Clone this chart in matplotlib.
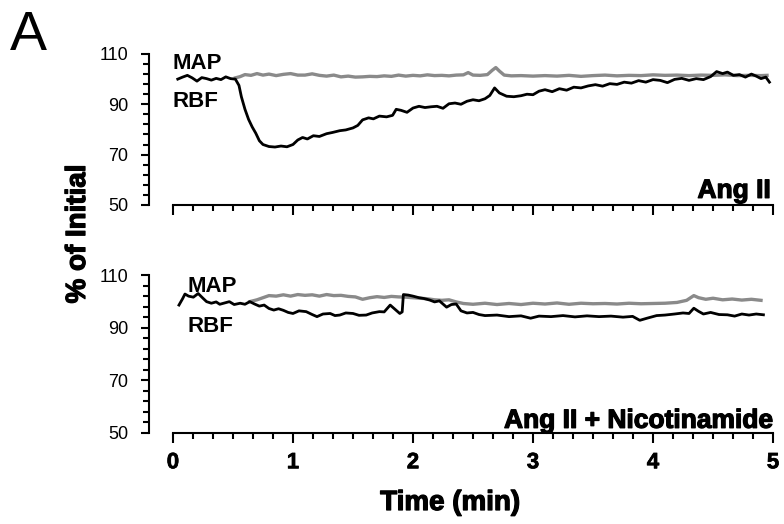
import matplotlib
matplotlib.use("Agg")
import matplotlib.pyplot as plt
import matplotlib.patheffects as pe
import numpy as np

plt.rcParams['font.family'] = ['Liberation Sans', 'DejaVu Sans']

# ---- data (% of initial, time in min) ----
# Ang II panel
rbf_top_t = [0.04, 0.08, 0.12, 0.16, 0.2, 0.24, 0.28, 0.32, 0.36, 0.4, 0.44, 0.48, 0.52, 0.55, 0.57,
             0.6, 0.63, 0.66, 0.69, 0.72, 0.75, 0.8, 0.85, 0.9, 0.95, 1.0, 1.04, 1.08, 1.12, 1.17,
             1.22, 1.28, 1.33, 1.39, 1.44, 1.5, 1.54, 1.58, 1.63, 1.67, 1.72, 1.78, 1.83, 1.86, 1.9,
             1.95, 2.0, 2.05, 2.1, 2.15, 2.2, 2.25, 2.3, 2.35, 2.4, 2.45, 2.5, 2.55, 2.6, 2.64, 2.68,
             2.72, 2.78, 2.84, 2.9, 2.95, 3.0, 3.05, 3.1, 3.16, 3.22, 3.28, 3.34, 3.4, 3.46, 3.52,
             3.58, 3.64, 3.7, 3.76, 3.82, 3.88, 3.94, 4.0, 4.06, 4.12, 4.18, 4.24, 4.3, 4.36, 4.42,
             4.48, 4.53, 4.58, 4.62, 4.67, 4.72, 4.77, 4.82, 4.86, 4.9, 4.94, 4.97]
rbf_top_v = [100.0, 100.8, 101.5, 100.5, 99.2, 100.6, 100.2, 99.6, 100.3, 99.8, 100.9, 100.2, 100.0, 97.5, 93.0,
             88.0, 84.0, 81.0, 78.5, 75.5, 74.0, 73.2, 73.0, 73.4, 73.1, 74.0, 75.8, 76.8, 76.2, 77.5,
             77.2, 78.3, 78.8, 79.5, 79.8, 80.6, 81.6, 83.8, 84.6, 84.2, 85.3, 85.0, 85.6, 88.0, 87.6,
             86.8, 88.5, 89.2, 88.7, 89.0, 89.2, 88.4, 90.2, 90.5, 90.0, 91.2, 91.8, 91.4, 92.2, 93.5, 96.5,
             94.5, 93.2, 93.0, 93.4, 94.0, 93.8, 95.2, 95.8, 95.0, 96.2, 95.6, 96.8, 96.5, 97.3, 97.8,
             97.2, 98.2, 97.9, 98.8, 98.4, 99.4, 98.8, 99.8, 99.5, 98.6, 99.9, 100.3, 99.5, 100.2, 99.8,
             101.0, 103.0, 102.2, 102.8, 101.5, 101.8, 100.8, 102.0, 101.2, 100.2, 100.8, 98.8]
map_top_t = [0.52, 0.56, 0.6, 0.65, 0.7, 0.75, 0.8, 0.86, 0.92, 0.98, 1.04, 1.1, 1.16, 1.22, 1.28,
             1.34, 1.4, 1.46, 1.52, 1.58, 1.64, 1.7, 1.76, 1.82, 1.88, 1.94, 2.0, 2.06, 2.12, 2.18,
             2.24, 2.3, 2.36, 2.42, 2.46, 2.5, 2.56, 2.62, 2.66, 2.69, 2.72, 2.76, 2.82, 2.9, 3.0,
             3.1, 3.2, 3.3, 3.4, 3.5, 3.6, 3.7, 3.8, 3.9, 4.0, 4.1, 4.2, 4.3, 4.4, 4.5, 4.6, 4.7,
             4.8, 4.9, 4.95]
map_top_v = [100.5, 101.0, 101.8, 101.5, 102.2, 101.6, 102.0, 101.4, 101.9, 102.2, 101.6, 101.6, 102.1, 101.5, 101.2,
             101.6, 100.9, 101.2, 100.8, 100.9, 101.1, 101.0, 101.3, 101.1, 101.6, 101.2, 101.5, 101.3, 101.7, 101.4,
             101.5, 101.3, 101.6, 101.7, 102.6, 101.6, 101.5, 101.8, 103.5, 104.6, 103.2, 101.6, 101.3, 101.4, 101.2,
             101.4, 101.2, 101.5, 101.1, 101.4, 101.6, 101.3, 101.5, 101.4, 101.7, 101.5, 101.6, 101.4, 101.6, 101.5, 101.7, 101.4,
             101.5, 101.4, 101.5]

# Ang II + Nicotinamide panel
rbf_bot_t = [0.05, 0.08, 0.1, 0.13, 0.17, 0.21, 0.25, 0.28, 0.32, 0.36, 0.39, 0.43, 0.47, 0.51, 0.56,
             0.6, 0.64, 0.68, 0.72, 0.76, 0.8, 0.84, 0.88, 0.92, 0.96, 1.0, 1.05, 1.11, 1.16, 1.2,
             1.25, 1.31, 1.35, 1.39, 1.44, 1.5, 1.55, 1.61, 1.66, 1.72, 1.76, 1.81, 1.85, 1.89, 1.91,
             1.92, 1.96, 2.0, 2.05, 2.09, 2.14, 2.18, 2.22, 2.28, 2.32, 2.36, 2.4, 2.45, 2.5, 2.55,
             2.6, 2.7, 2.8, 2.9, 2.98, 3.05, 3.15, 3.25, 3.35, 3.45, 3.55, 3.65, 3.75, 3.83, 3.89,
             3.95, 4.03, 4.1, 4.18, 4.25, 4.3, 4.34, 4.38, 4.42, 4.48, 4.55, 4.62, 4.68, 4.74, 4.8,
             4.86, 4.92]
rbf_bot_v = [98.6, 101.0, 102.8, 102.0, 101.6, 103.0, 101.2, 99.9, 99.3, 99.8, 98.9, 99.4, 99.9, 98.8, 99.3,
             98.9, 99.9, 99.0, 98.2, 98.6, 97.3, 96.7, 97.2, 96.6, 95.8, 95.4, 96.4, 96.1, 95.0, 94.2,
             95.2, 95.4, 94.6, 94.8, 95.6, 95.4, 94.7, 94.8, 95.6, 96.1, 96.0, 98.6, 97.0, 95.4, 96.0,
             102.6, 102.4, 102.0, 101.4, 101.1, 100.5, 99.8, 100.2, 97.8, 98.8, 99.0, 96.4, 95.6, 95.8, 95.0,
             94.6, 94.8, 94.2, 94.5, 93.6, 94.4, 94.2, 94.6, 94.1, 94.5, 94.2, 94.4, 94.0, 94.3, 92.8,
             93.6, 94.6, 94.8, 95.2, 95.6, 95.4, 97.4, 96.2, 95.2, 95.8, 95.0, 94.9, 94.4, 95.2, 94.8,
             95.2, 94.9]
map_bot_t = [0.64, 0.7, 0.75, 0.8, 0.86, 0.92, 0.98, 1.04, 1.1, 1.16, 1.22, 1.28, 1.34, 1.4, 1.46,
             1.52, 1.58, 1.64, 1.7, 1.76, 1.82, 1.88, 1.94, 2.0, 2.06, 2.12, 2.18, 2.24, 2.3, 2.36,
             2.42, 2.5, 2.6, 2.7, 2.8, 2.9, 3.0, 3.1, 3.2, 3.3, 3.4, 3.5, 3.6, 3.7, 3.8, 3.9, 4.0,
             4.1, 4.2, 4.28, 4.34, 4.38, 4.44, 4.5, 4.58, 4.66, 4.74, 4.82, 4.9]
map_bot_v = [99.9, 100.6, 101.4, 102.2, 102.0, 102.5, 102.0, 102.6, 102.3, 102.5, 102.0, 102.6, 102.2, 102.3, 101.9,
             101.7, 100.8, 101.4, 101.8, 101.5, 101.9, 101.7, 101.6, 101.4, 101.2, 101.0, 100.6, 100.4, 100.6, 99.8,
             99.2, 98.9, 99.3, 98.8, 99.2, 98.8, 99.3, 99.0, 99.4, 98.9, 99.3, 99.1, 99.2, 99.0, 99.3, 99.1, 99.2,
             99.3, 99.6, 100.4, 102.2, 101.4, 100.8, 101.2, 100.6, 100.9, 100.5, 100.8, 100.4]

y_ticks = [50, 70, 90, 110]
x_ticks = [0, 1, 2, 3, 4, 5]

# heavy look of the original labels
heavy = [pe.withStroke(linewidth=0.9, foreground='black')]

fig = plt.figure(figsize=(7.84, 5.24), dpi=100)
ax_top = fig.add_axes([0.190, 0.609, 0.796, 0.288])
ax_bot = fig.add_axes([0.190, 0.174, 0.796, 0.301])


def style_axis(ax, show_xlabels):
    ax.set_xlim(-0.2, 5.0)
    ax.set_ylim(50, 110)
    for s in ['top', 'right']:
        ax.spines[s].set_visible(False)
    ax.spines['left'].set_bounds(50, 110)
    ax.spines['bottom'].set_bounds(0, 5)
    ax.spines['left'].set_linewidth(1.5)
    ax.spines['bottom'].set_linewidth(1.5)
    ax.set_yticks(y_ticks)
    ax.set_yticks(np.arange(50, 111, 4), minor=True)
    ax.set_xticks(x_ticks)
    ax.set_xticks(np.arange(0, 5.01, 1 / 6), minor=True)
    ax.tick_params(axis='y', which='major', length=6, width=1.5, pad=9, labelsize=13)
    ax.tick_params(axis='y', which='minor', length=4, width=1.5)
    ax.tick_params(axis='x', which='major', length=7, width=1.5, pad=7, labelsize=16)
    ax.tick_params(axis='x', which='minor', length=4, width=1.5)
    if show_xlabels:
        for lab in ax.get_xticklabels():
            lab.set_fontweight('bold')
            lab.set_path_effects([pe.withStroke(linewidth=0.5, foreground='black')])
    else:
        ax.set_xticklabels([])
    ax.patch.set_alpha(0)


# top: Ang II
ax_top.plot(map_top_t, map_top_v, color='#8a8a8a', linewidth=2.4, clip_on=False)
ax_top.plot(rbf_top_t, rbf_top_v, color='black', linewidth=2.0, clip_on=False)
style_axis(ax_top, False)
ax_top.text(0.0, 104.0, 'MAP', fontsize=16, fontweight='bold', ha='left', va='baseline')
ax_top.text(0.0, 88.8, 'RBF', fontsize=16, fontweight='bold', ha='left', va='baseline')
ax_top.text(4.98, 52.8, 'Ang II', fontsize=19, fontweight='bold', ha='right', va='baseline',
            path_effects=heavy)

# bottom: Ang II + Nicotinamide
ax_bot.plot(map_bot_t, map_bot_v, color='#8a8a8a', linewidth=2.4, clip_on=False)
ax_bot.plot(rbf_bot_t, rbf_bot_v, color='black', linewidth=2.0, clip_on=False)
style_axis(ax_bot, True)
ax_bot.text(0.125, 103.5, 'MAP', fontsize=16, fontweight='bold', ha='left', va='baseline')
ax_bot.text(0.125, 88.3, 'RBF', fontsize=16, fontweight='bold', ha='left', va='baseline')
ax_bot.text(5.0, 51.9, 'Ang II + Nicotinamide', fontsize=19, fontweight='bold', ha='right', va='baseline',
            path_effects=heavy)

# shared labels
fig.text(450 / 784, 1 - 503 / 524, 'Time (min)', fontsize=20, fontweight='bold', ha='center', va='center',
         path_effects=heavy)
fig.text(78 / 784, 1 - 234 / 524, '% of Initial', fontsize=20, fontweight='bold',
         ha='center', va='center', rotation=90, path_effects=heavy)
fig.text(10 / 784, 1 - 50 / 524, 'A', fontsize=40, ha='left', va='baseline')

fig.savefig('out.png', dpi=100)
print("Figure has been saved to: out.png")
